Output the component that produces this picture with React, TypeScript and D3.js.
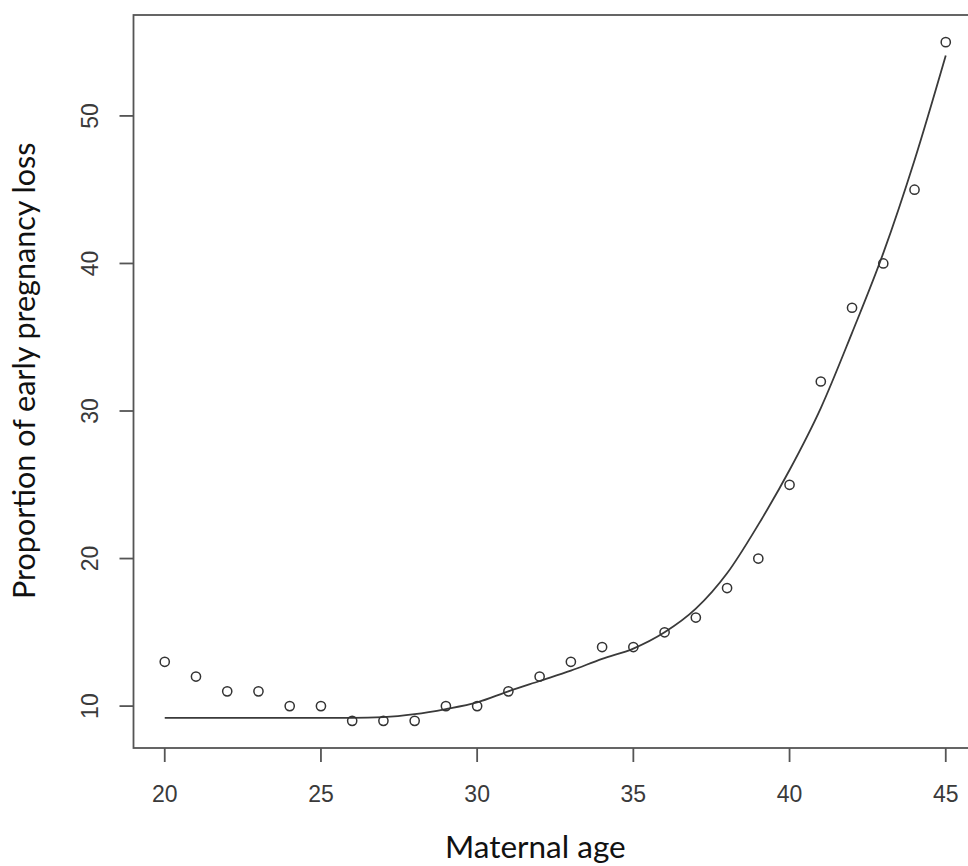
import React from "react";
import * as d3 from "d3";

const ages = [20, 21, 22, 23, 24, 25, 26, 27, 28, 29, 30, 31, 32, 33, 34, 35, 36, 37, 38, 39, 40, 41, 42, 43, 44, 45];
const observed = [13, 12, 11, 11, 10, 10, 9, 9, 9, 10, 10, 11, 12, 13, 14, 14, 15, 16, 18, 20, 25, 32, 37, 40, 45, 55];
const fitted = [9.2, 9.2, 9.2, 9.2, 9.2, 9.2, 9.2, 9.25, 9.45, 9.8, 10.25, 11.0, 11.7, 12.4, 13.2, 13.9, 15.0, 16.6, 19.0, 22.3, 26.0, 30.2, 35.3, 40.7, 47.0, 54.1];
const xTicks = [20, 25, 30, 35, 40, 45];
const yTicks = [10, 20, 30, 40, 50];
const xLabel = "Maternal age";
const yLabel = "Proportion of early pregnancy loss";

export default function App() {
  const W = 968, H = 866;
  const left = 133.5, right = 977, top = 15, bottom = 748;
  const x = d3.scaleLinear().domain([19, 46]).range([left, right]);
  const y = d3.scaleLinear().domain([7.16, 56.84]).range([bottom, top]);
  const line = d3
    .line<number>()
    .x((_, i) => x(ages[i]))
    .y((d) => y(d))
    .curve(d3.curveMonotoneX);
  const axisColor = "#555";
  const tickFont = "'Liberation Sans', Arial, sans-serif";
  const labelFont = "Lato, 'Open Sans', sans-serif";
  return (
    <svg width={W} height={H} style={{ position: "absolute", left: 0, top: 0, background: "#fff" }}>
      <rect x={left} y={top} width={right - left} height={bottom - top} fill="none" stroke={axisColor} strokeWidth={1.8} />
      {xTicks.map((t) => (
        <g key={"x" + t}>
          <line x1={x(t)} x2={x(t)} y1={bottom} y2={bottom + 14} stroke={axisColor} strokeWidth={1.8} />
          <text x={x(t)} y={802} textAnchor="middle" fontFamily={tickFont} fontSize={23} fill="#3a3a3a">{t}</text>
        </g>
      ))}
      {yTicks.map((t) => (
        <g key={"y" + t}>
          <line x1={left - 14} x2={left} y1={y(t)} y2={y(t)} stroke={axisColor} strokeWidth={1.8} />
          <text transform={`translate(${98},${y(t)}) rotate(-90)`} textAnchor="middle" fontFamily={tickFont} fontSize={23} fill="#3a3a3a">{t}</text>
        </g>
      ))}
      <path d={line(fitted) || ""} fill="none" stroke="#3a3a3a" strokeWidth={1.8} />
      {observed.map((v, i) => (
        <circle key={i} cx={x(ages[i])} cy={y(v)} r={4.6} fill="none" stroke="#333" strokeWidth={1.5} />
      ))}
      <text x={445} y={858} textAnchor="start" fontFamily={labelFont} fontSize={31.5} fill="#111">{xLabel}</text>
      <text transform={`translate(${35},${599}) rotate(-90)`} textAnchor="start" fontFamily={labelFont} fontSize={30.5} fill="#111">{yLabel}</text>
    </svg>
  );
}
